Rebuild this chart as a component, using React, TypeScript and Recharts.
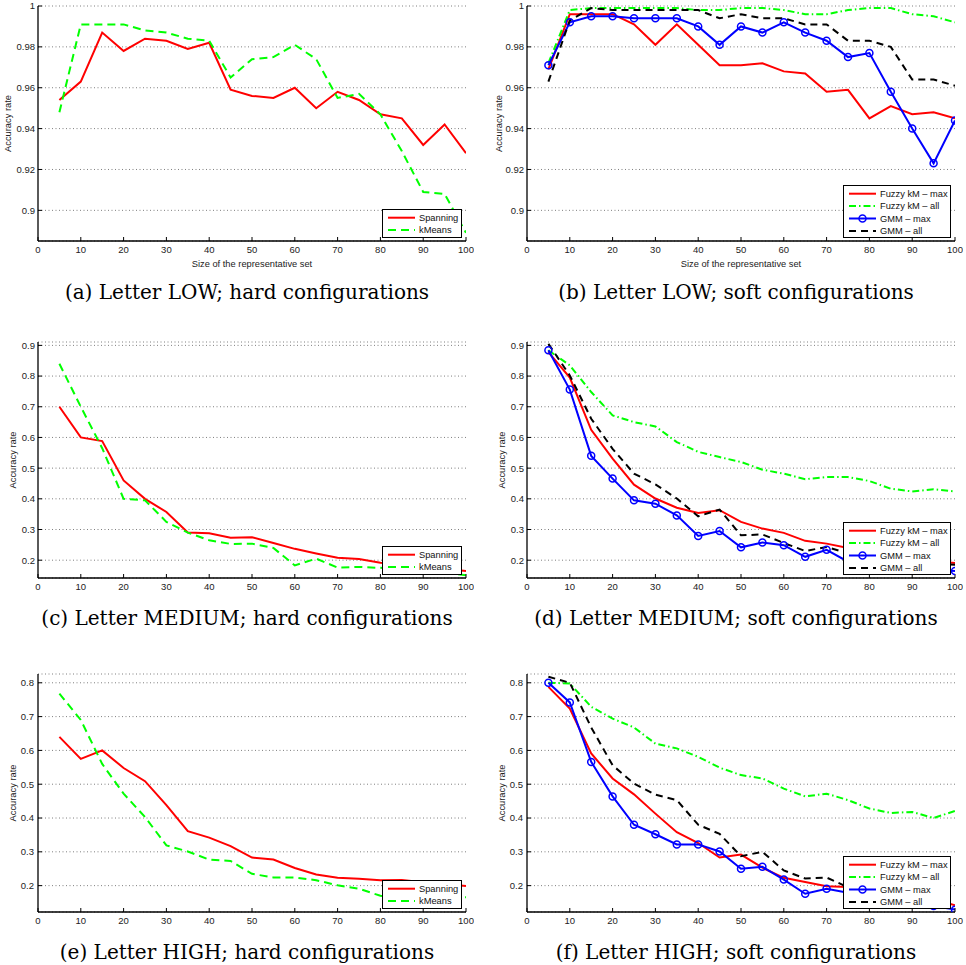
import { LineChart, Line, XAxis, YAxis, CartesianGrid, Legend } from "recharts";

// representative set sizes (x)
const sizes = [5, 10, 15, 20, 25, 30, 35, 40, 45, 50, 55, 60, 65, 70, 75, 80, 85, 90, 95, 100];
const sizeTicks = [0, 10, 20, 30, 40, 50, 60, 70, 80, 90, 100];

const lowTicks = [0.9, 0.92, 0.94, 0.96, 0.98, 1];
const mediumTicks = [0.2, 0.3, 0.4, 0.5, 0.6, 0.7, 0.8, 0.9];
const highTicks = [0.2, 0.3, 0.4, 0.5, 0.6, 0.7, 0.8];

const hardNames = ["Spanning", "kMeans"];
const softNames = ["Fuzzy kM \u2013 max", "Fuzzy kM \u2013 all", "GMM \u2013 max", "GMM \u2013 all"];

// (a) Letter LOW, hard
const lowHardSpanning = [0.954, 0.963, 0.987, 0.978, 0.984, 0.983, 0.979, 0.982, 0.959, 0.956, 0.955, 0.960, 0.950, 0.958, 0.954, 0.947, 0.945, 0.932, 0.942, 0.928];
const lowHardKMeans = [0.948, 0.991, 0.991, 0.991, 0.988, 0.987, 0.984, 0.983, 0.965, 0.974, 0.975, 0.981, 0.974, 0.955, 0.957, 0.947, 0.929, 0.909, 0.908, 0.889];

// (b) Letter LOW, soft
const lowSoftFuzzyMax = [0.969, 0.996, 0.996, 0.996, 0.991, 0.981, 0.991, 0.981, 0.971, 0.971, 0.972, 0.968, 0.967, 0.958, 0.959, 0.945, 0.951, 0.947, 0.948, 0.945];
const lowSoftFuzzyAll = [0.972, 0.998, 0.999, 0.999, 0.999, 0.999, 0.999, 0.998, 0.998, 0.999, 0.999, 0.998, 0.996, 0.996, 0.998, 0.999, 0.999, 0.996, 0.995, 0.992];
const lowSoftGmmMax = [0.971, 0.992, 0.995, 0.995, 0.994, 0.994, 0.994, 0.990, 0.981, 0.990, 0.987, 0.992, 0.987, 0.983, 0.975, 0.977, 0.958, 0.940, 0.923, 0.944];
const lowSoftGmmAll = [0.963, 0.993, 0.999, 0.998, 0.998, 0.998, 0.998, 0.998, 0.994, 0.996, 0.994, 0.994, 0.991, 0.991, 0.983, 0.983, 0.980, 0.964, 0.964, 0.961];

// (c) Letter MEDIUM, hard
const medHardSpanning = [0.70, 0.60, 0.588, 0.46, 0.40, 0.357, 0.290, 0.288, 0.273, 0.275, 0.256, 0.237, 0.222, 0.208, 0.204, 0.192, 0.186, 0.180, 0.172, 0.165];
const medHardKMeans = [0.84, 0.70, 0.565, 0.40, 0.395, 0.325, 0.290, 0.265, 0.253, 0.254, 0.240, 0.183, 0.205, 0.176, 0.178, 0.175, 0.170, 0.165, 0.160, 0.151];

// (d) Letter MEDIUM, soft
const medSoftFuzzyMax = [0.878, 0.795, 0.625, 0.531, 0.446, 0.401, 0.371, 0.354, 0.363, 0.325, 0.303, 0.289, 0.263, 0.254, 0.240, 0.225, 0.212, 0.203, 0.197, 0.191];
const medSoftFuzzyAll = [0.884, 0.835, 0.748, 0.672, 0.650, 0.636, 0.585, 0.553, 0.536, 0.520, 0.495, 0.482, 0.464, 0.471, 0.471, 0.458, 0.433, 0.424, 0.431, 0.424];
const medSoftGmmMax = [0.884, 0.756, 0.540, 0.466, 0.395, 0.384, 0.346, 0.279, 0.295, 0.242, 0.258, 0.249, 0.211, 0.234, 0.195, 0.182, 0.176, 0.172, 0.170, 0.165];
const medSoftGmmAll = [0.905, 0.802, 0.661, 0.563, 0.482, 0.447, 0.401, 0.343, 0.365, 0.281, 0.284, 0.256, 0.230, 0.243, 0.222, 0.210, 0.200, 0.195, 0.190, 0.185];

// (e) Letter HIGH, hard
const highHardSpanning = [0.640, 0.575, 0.600, 0.548, 0.509, 0.438, 0.361, 0.342, 0.317, 0.283, 0.277, 0.252, 0.233, 0.223, 0.220, 0.216, 0.217, 0.210, 0.205, 0.199];
const highHardKMeans = [0.768, 0.690, 0.560, 0.472, 0.403, 0.319, 0.301, 0.277, 0.273, 0.235, 0.224, 0.224, 0.216, 0.201, 0.191, 0.170, 0.165, 0.160, 0.160, 0.166];

// (f) Letter HIGH, soft
const highSoftFuzzyMax = [0.788, 0.724, 0.591, 0.517, 0.470, 0.413, 0.358, 0.326, 0.283, 0.292, 0.253, 0.223, 0.211, 0.198, 0.196, 0.190, 0.180, 0.170, 0.160, 0.142];
const highSoftFuzzyAll = [0.800, 0.798, 0.729, 0.694, 0.668, 0.620, 0.606, 0.581, 0.549, 0.527, 0.517, 0.487, 0.464, 0.472, 0.453, 0.428, 0.415, 0.418, 0.400, 0.421];
const highSoftGmmMax = [0.800, 0.742, 0.566, 0.464, 0.380, 0.352, 0.322, 0.322, 0.301, 0.250, 0.256, 0.218, 0.176, 0.191, 0.179, 0.170, 0.160, 0.150, 0.140, 0.129];
const highSoftGmmAll = [0.818, 0.800, 0.668, 0.556, 0.502, 0.469, 0.453, 0.380, 0.353, 0.287, 0.300, 0.245, 0.221, 0.224, 0.195, 0.180, 0.170, 0.160, 0.150, 0.140];

type LineStyle = { color: string; dash?: string; dot?: boolean };

const hardStyles: LineStyle[] = [
    { color: "#ff0000" },
    { color: "#00ff00", dash: "8 5" },
];
const softStyles: LineStyle[] = [
    { color: "#ff0000" },
    { color: "#00ff00", dash: "7 3 1.5 3" },
    { color: "#0000ff", dot: true },
    { color: "#000000", dash: "7 5" },
];

// layout
const PLOT_W = 428;
const AXIS_W = 38;
const colPlotLeft = [38, 527];
const rowPlotTop = [6, 342, 674];
const rowPlotHeight = [235, 236, 238];
const rowCaptionY = [292, 618, 952];
const yLabelX = [[8, 13, 13], [10, 13, 13]];
const yTickGap = [[3, 3, 4], [3, 3, 4]];

const sans = "'Liberation Sans', Arial, Helvetica, sans-serif";
const tickStyle = { fontSize: 9.5, fill: "#222", fontFamily: sans };
const frame = { stroke: "#000", strokeWidth: 1.3 };

type PanelDef = {
    col: number;
    row: number;
    caption: string;
    names: string[];
    styles: LineStyle[];
    values: number[][];
    domain: [number, number];
    ticks: number[];
};

const panels: PanelDef[] = [
    { col: 0, row: 0, caption: "(a) Letter LOW; hard configurations", names: hardNames, styles: hardStyles, values: [lowHardSpanning, lowHardKMeans], domain: [0.885, 1], ticks: lowTicks },
    { col: 1, row: 0, caption: "(b) Letter LOW; soft configurations", names: softNames, styles: softStyles, values: [lowSoftFuzzyMax, lowSoftFuzzyAll, lowSoftGmmMax, lowSoftGmmAll], domain: [0.885, 1], ticks: lowTicks },
    { col: 0, row: 1, caption: "(c) Letter MEDIUM; hard configurations", names: hardNames, styles: hardStyles, values: [medHardSpanning, medHardKMeans], domain: [0.142, 0.911], ticks: mediumTicks },
    { col: 1, row: 1, caption: "(d) Letter MEDIUM; soft configurations", names: softNames, styles: softStyles, values: [medSoftFuzzyMax, medSoftFuzzyAll, medSoftGmmMax, medSoftGmmAll], domain: [0.142, 0.911], ticks: mediumTicks },
    { col: 0, row: 2, caption: "(e) Letter HIGH; hard configurations", names: hardNames, styles: hardStyles, values: [highHardSpanning, highHardKMeans], domain: [0.122, 0.826], ticks: highTicks },
    { col: 1, row: 2, caption: "(f) Letter HIGH; soft configurations", names: softNames, styles: softStyles, values: [highSoftFuzzyMax, highSoftFuzzyAll, highSoftGmmMax, highSoftGmmAll], domain: [0.122, 0.826], ticks: highTicks },
];

function buildRows(values: number[][]) {
    return sizes.map((x, i) => {
        const row: Record<string, number> = { x };
        values.forEach((v, k) => {
            row["s" + k] = v[i];
        });
        return row;
    });
}

function LegendBox({ names, styles, width, height }: { names: string[]; styles: LineStyle[]; width: number; height: number }) {
    return (
        <svg width={width - 2} height={height - 2} style={{ display: "block" }}>
            {names.map((n, i) => {
                const y = 7.7 + i * 12.4;
                const s = styles[i];
                return (
                    <g key={n}>
                        <line x1={5} x2={32} y1={y} y2={y} stroke={s.color} strokeWidth={2} strokeDasharray={s.dash} />
                        {s.dot && <circle cx={18.5} cy={y} r={3.5} fill="none" stroke={s.color} strokeWidth={1.5} />}
                        <text x={36} y={y} dy="0.35em" fontSize={9.3} fontFamily={sans} fill="#111">
                            {n}
                        </text>
                    </g>
                );
            })}
        </svg>
    );
}

function Panel({ p }: { p: PanelDef }) {
    const plotTop = rowPlotTop[p.row];
    const plotH = rowPlotHeight[p.row];
    const xAxisH = p.row === 0 ? 30 : 20;
    const chartLeft = colPlotLeft[p.col] - AXIS_W;
    const chartTop = plotTop - 6;
    const chartW = AXIS_W + PLOT_W + 8;
    const chartH = 6 + plotH + xAxisH;
    const legendW = p.names.length > 2 ? 108 : 80;
    const legendH = p.names.length > 2 ? 53 : 29;
    const legendLeft = AXIS_W + PLOT_W - 4 - legendW;
    const legendTop = 6 + plotH - 3 - legendH;
    const data = buildRows(p.values);
    const fmt = (v: number) => String(Number(v.toFixed(2)));

    return (
        <>
            <div style={{ position: "absolute", left: chartLeft, top: chartTop }}>
                <LineChart width={chartW} height={chartH} data={data} margin={{ top: 6, right: 8, bottom: 0, left: 0 }}>
                    <CartesianGrid vertical={false} stroke="#7f7f7f" strokeDasharray="1 2.5" />
                    <XAxis
                        dataKey="x"
                        type="number"
                        domain={[0, 100]}
                        ticks={sizeTicks}
                        interval={0}
                        allowDataOverflow
                        height={xAxisH}
                        tickSize={-4}
                        tickMargin={9.5}
                        tick={tickStyle}
                        axisLine={frame}
                        tickLine={{ stroke: "#000" }}
                        label={
                            p.row === 0
                                ? { value: "Size of the representative set", position: "insideBottom", offset: 4, fontSize: 9.3, fill: "#222", fontFamily: sans }
                                : undefined
                        }
                    />
                    <XAxis
                        xAxisId="top"
                        orientation="top"
                        type="number"
                        domain={[0, 100]}
                        ticks={sizeTicks}
                        interval={0}
                        allowDataOverflow
                        height={0}
                        tickSize={-4}
                        tick={false}
                        axisLine={frame}
                        tickLine={{ stroke: "#000" }}
                    />
                    <YAxis
                        type="number"
                        domain={p.domain}
                        ticks={p.ticks}
                        interval={0}
                        allowDataOverflow
                        width={AXIS_W}
                        tickSize={-4}
                        tickMargin={4 + yTickGap[p.col][p.row]}
                        tick={tickStyle}
                        tickFormatter={fmt}
                        axisLine={frame}
                        tickLine={{ stroke: "#000" }}
                        label={{
                            value: "Accuracy rate",
                            angle: -90,
                            position: "insideLeft",
                            offset: yLabelX[p.col][p.row],
                            style: { textAnchor: "middle" },
                            fontSize: 9.3,
                            fill: "#222",
                            fontFamily: sans,
                        }}
                    />
                    <YAxis
                        yAxisId="right"
                        orientation="right"
                        type="number"
                        domain={p.domain}
                        ticks={p.ticks}
                        interval={0}
                        allowDataOverflow
                        width={0}
                        tickSize={-4}
                        tick={false}
                        axisLine={frame}
                        tickLine={{ stroke: "#000" }}
                    />
                    {p.names.map((n, k) => {
                        const s = p.styles[k];
                        return (
                            <Line
                                key={n}
                                name={n}
                                type="linear"
                                dataKey={"s" + k}
                                stroke={s.color}
                                strokeWidth={2}
                                strokeDasharray={s.dash}
                                dot={s.dot ? { r: 3.5, fill: "none", stroke: s.color, strokeWidth: 1.5 } : false}
                                activeDot={false}
                                isAnimationActive={false}
                            />
                        );
                    })}
                    <Legend
                        layout="vertical"
                        align="center"
                        verticalAlign="middle"
                        wrapperStyle={{
                            left: legendLeft,
                            top: legendTop,
                            width: legendW,
                            height: legendH,
                            border: "1px solid #000",
                            background: "#fff",
                            boxSizing: "border-box",
                            lineHeight: 0,
                        }}
                        content={() => <LegendBox names={p.names} styles={p.styles} width={legendW} height={legendH} />}
                    />
                </LineChart>
            </div>
            <div
                style={{
                    position: "absolute",
                    left: colPlotLeft[p.col] - 10,
                    width: PLOT_W + 10,
                    top: rowCaptionY[p.row] - 13,
                    textAlign: "center",
                    fontFamily: "'DejaVu Serif', serif",
                    fontSize: 20,
                    lineHeight: "26px",
                    color: "#000",
                    whiteSpace: "nowrap",
                }}
            >
                {p.caption}
            </div>
        </>
    );
}

export default function App() {
    return (
        <div style={{ position: "absolute", left: 0, top: 0, width: 966, height: 965, background: "#fff" }}>
            {panels.map((p) => (
                <Panel key={p.caption} p={p} />
            ))}
        </div>
    );
}
